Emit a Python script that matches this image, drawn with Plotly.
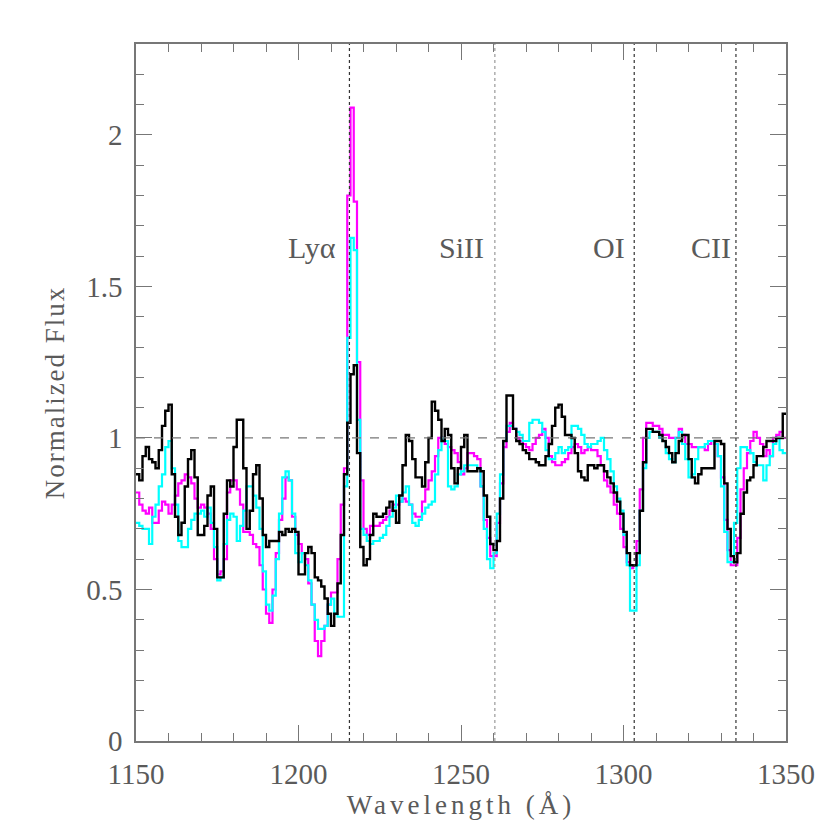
import plotly.graph_objects as go

# ---------------- data (1 Angstrom bins, left edges from 1150) ----------------
wl_start = 1150
wl_step = 1.0

flux_black = [
    0.88, 0.86, 0.94, 0.97, 0.93, 0.92, 0.90, 0.96, 1.04, 1.09,
    1.11, 0.88, 0.74, 0.68, 0.72, 0.84, 0.93, 0.96, 0.87, 0.68,
    0.68, 0.71, 0.81, 0.84, 0.70, 0.54, 0.54, 0.75, 0.86, 0.84,
    0.97, 1.06, 1.06, 0.90, 0.70, 0.76, 0.88, 0.91, 0.80, 0.68,
    0.64, 0.66, 0.66, 0.66, 0.69, 0.68, 0.70, 0.69, 0.70, 0.69,
    0.55, 0.55, 0.62, 0.64, 0.62, 0.54, 0.53, 0.51, 0.47, 0.42,
    0.38, 0.42, 0.52, 0.68, 0.88, 1.05, 1.21, 1.24, 0.95, 0.64,
    0.58, 0.60, 0.68, 0.75, 0.74, 0.74, 0.75, 0.77, 0.79, 0.76,
    0.72, 0.81, 0.91, 1.01, 0.99, 0.93, 0.87, 0.87, 0.84, 0.92,
    1.00, 1.12, 1.09, 1.06, 0.99, 1.03, 1.01, 0.90, 0.85, 0.90,
    0.97, 1.01, 0.89, 0.89, 0.89, 0.90, 0.89, 0.81, 0.74, 0.65,
    0.63, 0.66, 0.80, 0.99, 1.14, 1.14, 1.03, 0.99, 0.98, 0.96,
    0.95, 0.93, 0.93, 0.92, 0.91, 0.91, 0.94, 0.98, 1.04, 1.10,
    1.11, 1.07, 1.01, 1.01, 1.00, 0.95, 0.89, 0.87, 0.86, 0.91,
    0.91, 0.90, 0.91, 0.91, 0.89, 0.87, 0.85, 0.82, 0.79, 0.75,
    0.69, 0.62, 0.58, 0.58, 0.62, 0.76, 0.92, 1.03, 1.03, 1.02,
    1.02, 1.01, 0.99, 0.97, 0.95, 0.92, 0.95, 0.99, 1.01, 1.01,
    0.93, 0.87, 0.85, 0.88, 0.90, 0.90, 0.90, 0.90, 0.99, 0.99,
    0.98, 0.85, 0.70, 0.61, 0.59, 0.62, 0.75, 0.82, 0.86, 0.87,
    0.91, 0.94, 0.94, 0.97, 0.99, 0.99, 0.99, 1.00, 1.00, 1.08,
]

flux_magenta = [
    0.82, 0.78, 0.76, 0.75, 0.77, 0.72, 0.72, 0.76, 0.79, 0.78,
    0.75, 0.78, 0.81, 0.85, 0.86, 0.88, 0.87, 0.85, 0.80, 0.77,
    0.78, 0.77, 0.75, 0.70, 0.60, 0.55, 0.56, 0.60, 0.82, 0.86,
    0.86, 0.83, 0.78, 0.69, 0.69, 0.68, 0.65, 0.64, 0.58, 0.50,
    0.42, 0.39, 0.50, 0.62, 0.73, 0.80, 0.87, 0.86, 0.74, 0.68,
    0.65, 0.62, 0.60, 0.52, 0.45, 0.33, 0.28, 0.33, 0.38, 0.45,
    0.49, 0.49, 0.60, 0.78, 0.90, 1.80, 2.09, 1.78, 1.25, 0.86,
    0.70, 0.68, 0.71, 0.71, 0.71, 0.72, 0.73, 0.74, 0.76, 0.78,
    0.78, 0.79, 0.80, 0.79, 0.78, 0.75, 0.74, 0.74, 0.79, 0.83,
    0.86, 0.89, 0.94, 1.00, 1.00, 0.98, 0.97, 0.96, 0.95, 0.92,
    0.88, 0.90, 0.95, 0.95, 0.94, 0.93, 0.84, 0.73, 0.67, 0.61,
    0.61, 0.72, 0.85, 0.97, 1.02, 1.05, 1.03, 1.00, 0.99, 0.98,
    0.97, 0.96, 0.98, 1.00, 1.01, 1.03, 1.00, 0.94, 0.92, 0.91,
    0.91, 0.92, 0.93, 0.95, 0.97, 0.98, 0.97, 0.95, 0.96, 0.97,
    0.96, 0.96, 0.94, 0.91, 0.86, 0.84, 0.82, 0.78, 0.75, 0.70,
    0.64, 0.59, 0.57, 0.58, 0.66, 0.83, 1.00, 1.05, 1.05, 1.04,
    1.04, 1.03, 1.01, 1.01, 1.00, 1.00, 1.00, 1.03, 1.01, 0.98,
    0.98, 0.97, 0.97, 0.97, 0.97, 0.96, 0.98, 0.99, 0.98, 0.94,
    0.87, 0.73, 0.63, 0.58, 0.58, 0.67, 0.83, 0.90, 0.95, 0.99,
    1.02, 1.00, 0.98, 0.94, 0.96, 0.94, 1.00, 1.01, 1.02, 1.00,
]

flux_cyan = [
    0.72, 0.71, 0.70, 0.70, 0.65, 0.74, 0.78, 0.84, 0.88, 0.97,
    0.99, 0.90, 0.78, 0.66, 0.64, 0.64, 0.70, 0.73, 0.75, 0.75,
    0.76, 0.74, 0.77, 0.72, 0.64, 0.53, 0.54, 0.65, 0.73, 0.75,
    0.74, 0.66, 0.71, 0.76, 0.84, 0.84, 0.81, 0.77, 0.70, 0.56,
    0.45, 0.43, 0.48, 0.60, 0.75, 0.87, 0.89, 0.86, 0.75, 0.62,
    0.59, 0.62, 0.58, 0.53, 0.45, 0.40, 0.37, 0.37, 0.38, 0.45,
    0.47, 0.42, 0.41, 0.41, 0.84, 1.33, 1.66, 1.62, 1.06, 0.70,
    0.68, 0.66, 0.65, 0.66, 0.66, 0.67, 0.68, 0.71, 0.74, 0.77,
    0.81, 0.79, 0.82, 0.84, 0.78, 0.72, 0.71, 0.73, 0.75, 0.77,
    0.78, 0.79, 0.88, 0.96, 1.00, 0.99, 0.84, 0.83, 0.84, 0.88,
    0.89, 0.91, 0.91, 0.91, 0.91, 0.90, 0.84, 0.70, 0.60, 0.57,
    0.62, 0.75, 0.88, 0.99, 1.04, 1.04, 1.03, 1.02, 1.01, 0.99,
    0.99, 1.05, 1.06, 1.06, 1.05, 1.02, 0.96, 0.93, 0.93, 0.95,
    0.97, 0.95, 0.96, 0.97, 1.04, 1.04, 1.03, 1.01, 0.98, 0.97,
    0.98, 0.98, 0.99, 1.00, 0.96, 0.93, 0.89, 0.84, 0.80, 0.76,
    0.68, 0.58, 0.43, 0.43, 0.58, 0.76, 0.90, 1.00, 1.02, 1.02,
    1.02, 1.00, 0.99, 0.95, 0.93, 0.92, 1.00, 1.02, 0.98, 0.93,
    0.87, 0.88, 0.93, 0.97, 0.97, 0.98, 0.99, 0.99, 0.98, 0.94,
    0.84, 0.69, 0.59, 0.59, 0.72, 0.90, 0.97, 0.97, 0.96, 0.95,
    0.92, 0.91, 0.91, 0.86, 0.91, 0.94, 0.98, 1.00, 0.96, 0.95,
]

line_names = ["Ly\u03b1", "SiII", "OI", "CII"]
line_wl = [1215.67, 1260.42, 1303.3, 1334.6]
line_colors = ["#333333", "#999999", "#333333", "#333333"]
label_wl = [1204.0, 1250.3, 1295.5, 1327.0]
label_flux = 1.63

x_range = [1150, 1350]
y_range = [0, 2.3]

# ---------------- figure ----------------
FONT = "Liberation Serif"
TXT = "#5a5a5a"
AX = "#777777"

def step_xy(values):
    xs = [wl_start + i * wl_step for i in range(len(values) + 1)]
    ys = list(values) + [values[-1]]
    return xs, ys

fig = go.Figure()

for vals, col, w in [(flux_magenta, "#FF00FF", 2.2),
                     (flux_cyan, "#00FFFF", 2.2),
                     (flux_black, "#000000", 2.4)]:
    xs, ys = step_xy(vals)
    fig.add_trace(go.Scatter(x=xs, y=ys, mode="lines", line_shape="hv",
                             line=dict(color=col, width=w), showlegend=False,
                             hoverinfo="skip"))

# continuum level
fig.add_shape(type="line", xref="x", yref="y", x0=x_range[0], x1=x_range[1],
              y0=1, y1=1, line=dict(color="#777777", width=1.2, dash="dash"))

# line markers
for wl, col in zip(line_wl, line_colors):
    fig.add_shape(type="line", xref="x", yref="paper", x0=wl, x1=wl, y0=0, y1=1,
                  line=dict(color=col, width=1.2, dash="dot"))

for name, wl in zip(line_names, label_wl):
    fig.add_annotation(x=wl, y=label_flux, text=name, showarrow=False,
                       xref="x", yref="y",
                       font=dict(family=FONT, size=30, color=TXT))

axis_common = dict(
    showgrid=False, zeroline=False, showline=True, linecolor=AX,
    linewidth=1.5, mirror="ticks", ticks="inside", tickcolor=AX,
    tickwidth=1.2, ticklen=16, automargin=False,
    tickfont=dict(family=FONT, size=29, color=TXT),
)

fig.update_xaxes(range=x_range, dtick=50, tick0=1150, ticklabelstandoff=6,
                 minor=dict(dtick=10, ticklen=8, ticks="inside",
                            tickcolor=AX, tickwidth=1.2),
                 title=dict(text='<span style="letter-spacing:4px">Wavelength (\u00c5)</span>',
                            standoff=4,
                            font=dict(family=FONT, size=27, color=TXT)),
                 **axis_common)
fig.update_yaxes(range=y_range, dtick=0.5, tick0=0, ticklabelstandoff=6,
                 minor=dict(dtick=0.1, ticklen=8, ticks="inside",
                            tickcolor=AX, tickwidth=1.2),
                 title=dict(text='<span style="letter-spacing:2px">Normalized Flux</span>',
                            standoff=14,
                            font=dict(family=FONT, size=27, color=TXT)),
                 **axis_common)

fig.update_layout(
    width=830, height=830,
    margin=dict(l=136, r=44, t=44, b=89),
    paper_bgcolor="white", plot_bgcolor="white",
)

fig.write_html("out.html", config={"displayModeBar": False},
               post_script="document.body.style.margin='0';")
